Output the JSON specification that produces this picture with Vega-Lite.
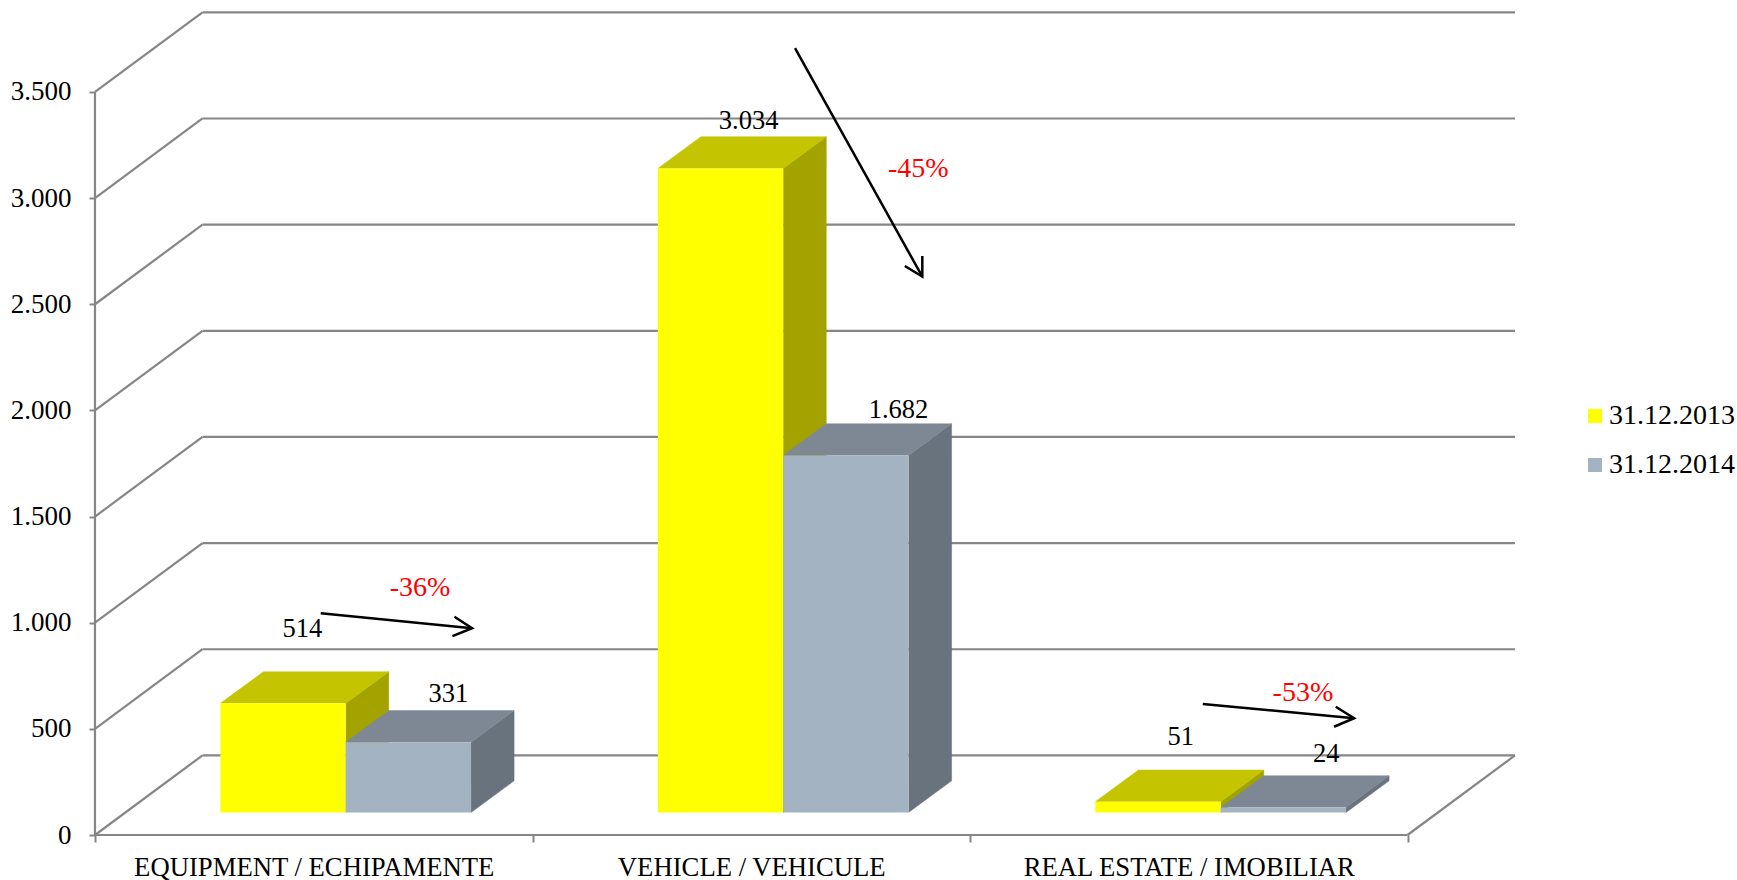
{
"$schema":"https://vega.github.io/schema/vega-lite/v6.json",
"width":1420,"height":825,"autosize":"none",
"padding":{"left":95,"top":10,"right":222,"bottom":45},
"background":"white",
"config":{"view":{"stroke":null},"font":"Liberation Serif"},
"datasets":{
"grid":[{"v":0},{"v":500},{"v":1000},{"v":1500},{"v":2000},{"v":2500},{"v":3000},{"v":3500}],
"frame":[{"xa":0,"ya":0,"xb":0,"yb":3500},{"xa":0,"ya":0,"xb":3,"yb":0},{"xa":3,"ya":0,"xb":3.2457,"yb":375}],
"arrows":[
{"id":"a1","o":0,"xa":0.516,"ya":1044},{"id":"a1","o":1,"xa":0.862,"ya":974},
{"id":"h1","o":0,"xa":0.8215,"ya":1028},{"id":"h1","o":1,"xa":0.862,"ya":974},{"id":"h1","o":2,"xa":0.817,"ya":937},
{"id":"a2","o":0,"xa":1.6,"ya":3706},{"id":"a2","o":1,"xa":1.891,"ya":2630},
{"id":"h2","o":0,"xa":1.851,"ya":2680},{"id":"h2","o":1,"xa":1.891,"ya":2630},{"id":"h2","o":2,"xa":1.891,"ya":2727},
{"id":"a3","o":0,"xa":2.532,"ya":617},{"id":"a3","o":1,"xa":2.878,"ya":550},
{"id":"h3","o":0,"xa":2.836,"ya":604},{"id":"h3","o":1,"xa":2.878,"ya":550},{"id":"h3","o":2,"xa":2.832,"ya":510}
],
"changes":[{"label":"-36%","xa":0.743,"ya":1162},{"label":"-45%","xa":1.882,"ya":3135},{"label":"-53%","xa":2.761,"ya":671}]
},
"data":{"values":[
{"category":"EQUIPMENT / ECHIPAMENTE","series":"31.12.2013","value":514},
{"category":"EQUIPMENT / ECHIPAMENTE","series":"31.12.2014","value":331},
{"category":"VEHICLE / VEHICULE","series":"31.12.2013","value":3034},
{"category":"VEHICLE / VEHICULE","series":"31.12.2014","value":1682},
{"category":"REAL ESTATE / IMOBILIAR","series":"31.12.2013","value":51},
{"category":"REAL ESTATE / IMOBILIAR","series":"31.12.2014","value":24}
]},
"transform":[
{"calculate":"indexof(['EQUIPMENT / ECHIPAMENTE','VEHICLE / VEHICULE','REAL ESTATE / IMOBILIAR'],datum.category)","as":"c"},
{"calculate":"datum.series=='31.12.2013'?0:1","as":"s"},
{"calculate":"datum.c+0.2865+datum.s*0.2865","as":"L"},
{"calculate":"datum.L+0.2865","as":"R"},
{"calculate":"106+datum.value","as":"T"},
{"calculate":"'b'+datum.c+datum.s","as":"bar"},
{"calculate":"[0,1,2,3]","as":"k"},
{"flatten":["k"]},
{"calculate":"[datum.R,datum.R+0.0984,datum.R+0.0984,datum.R][datum.k]","as":"sx"},
{"calculate":"[106,255,datum.T+149,datum.T][datum.k]","as":"sy"},
{"calculate":"[datum.L,datum.L+0.0984,datum.R+0.0984,datum.R][datum.k]","as":"tx"},
{"calculate":"[datum.T,datum.T+149,datum.T+149,datum.T][datum.k]","as":"ty"}
],
"encoding":{
"x":{"field":"xa","type":"quantitative","title":null,"scale":{"domain":[0,3.2457],"nice":false,"zero":false},
"axis":{"values":[0,0.5,1,1.5,2,2.5,3],"grid":false,"domain":false,"title":null,"tickColor":"#868686","tickWidth":2,"tickSize":7,
"tickOpacity":{"condition":{"test":"datum.value%1>0","value":0},"value":1},
"labelExpr":"datum.value==0.5?'EQUIPMENT / ECHIPAMENTE':datum.value==1.5?'VEHICLE / VEHICULE':datum.value==2.5?'REAL ESTATE / IMOBILIAR':''",
"labelFont":"Liberation Serif","labelFontSize":26.7,"labelColor":"black","labelPadding":12,"labelOverlap":false,"labelFlush":false,"labelBound":false,"labelLimit":600}},
"y":{"field":"ya","type":"quantitative","title":null,"scale":{"domain":[0,3886],"nice":false,"zero":false},
"axis":{"values":[0,500,1000,1500,2000,2500,3000,3500],"grid":false,"domain":false,"title":null,"tickColor":"#868686","tickWidth":2,"tickSize":6,
"labelExpr":"replace(format(datum.value,','),',','.')",
"labelFont":"Liberation Serif","labelFontSize":27,"labelColor":"black","labelPadding":18,"labelOverlap":false,"labelFlush":false,"labelBound":false}}
},
"layer":[
{"data":{"name":"grid"},"transform":[{"calculate":"0","as":"xa"},{"calculate":"datum.v","as":"ya"},{"calculate":"0.2457","as":"xb"},{"calculate":"datum.v+375","as":"yb"}],
"mark":{"type":"rule","color":"#868686","strokeWidth":2.2},"encoding":{"x2":{"field":"xb"},"y2":{"field":"yb"}}},
{"data":{"name":"grid"},"transform":[{"calculate":"0.2457","as":"xa"},{"calculate":"datum.v+375","as":"ya"},{"calculate":"3.2457","as":"xb"},{"calculate":"datum.v+375","as":"yb"}],
"mark":{"type":"rule","color":"#868686","strokeWidth":2.2},"encoding":{"x2":{"field":"xb"},"y2":{"field":"yb"}}},
{"data":{"name":"frame"},"mark":{"type":"rule","color":"#868686","strokeWidth":2.2},"encoding":{"x2":{"field":"xb"},"y2":{"field":"yb"}}},
{"transform":[{"filter":"datum.s==0"},{"calculate":"datum.sx","as":"xa"},{"calculate":"datum.sy","as":"ya"}],"mark":{"type":"line","fill":"#A3A300","stroke":"#A3A300","strokeWidth":0.5},"encoding":{"detail":{"field":"bar"},"order":{"field":"k"}}},
{"transform":[{"filter":"datum.s==0"},{"calculate":"datum.tx","as":"xa"},{"calculate":"datum.ty","as":"ya"}],"mark":{"type":"line","fill":"#C4C400","stroke":"#C4C400","strokeWidth":0.5},"encoding":{"detail":{"field":"bar"},"order":{"field":"k"}}},
{"transform":[{"filter":"datum.s==1"},{"calculate":"datum.sx","as":"xa"},{"calculate":"datum.sy","as":"ya"}],"mark":{"type":"line","fill":"#69737D","stroke":"#69737D","strokeWidth":0.5},"encoding":{"detail":{"field":"bar"},"order":{"field":"k"}}},
{"transform":[{"filter":"datum.s==1"},{"calculate":"datum.tx","as":"xa"},{"calculate":"datum.ty","as":"ya"}],"mark":{"type":"line","fill":"#7E8894","stroke":"#7E8894","strokeWidth":0.5},"encoding":{"detail":{"field":"bar"},"order":{"field":"k"}}},
{"transform":[{"filter":"datum.k==0"},{"calculate":"datum.L","as":"xa"},{"calculate":"datum.R","as":"xb"},{"calculate":"106","as":"ya"},{"calculate":"datum.T","as":"yb"}],
"mark":{"type":"rect"},
"encoding":{"x2":{"field":"xb"},"y2":{"field":"yb"},"color":{"field":"series","type":"nominal","title":null,
"scale":{"domain":["31.12.2013","31.12.2014"],"range":["#FFFF00","#A3B3C2"]},
"legend":{"orient":"none","legendX":1486,"legendY":392,"title":null,"symbolType":"square","symbolSize":196,"symbolStrokeWidth":0,"labelFont":"Liberation Serif","labelFontSize":28,"labelColor":"black","rowPadding":21,"labelOffset":0,"labelLimit":300}}}},
{"transform":[{"filter":"datum.k==0"},
{"calculate":"datum.c*2+datum.s","as":"i"},
{"calculate":"(datum.L+datum.R)/2+0.0492+[-0.005,0.042,0.015,0.071,0.0025,0.049][datum.i]","as":"xa"},
{"calculate":"datum.T+149+[203,78,73,63,156,104][datum.i]","as":"ya"},
{"calculate":"replace(format(datum.value,','),',','.')","as":"label"}],
"mark":{"type":"text","font":"Liberation Serif","fontSize":26.5,"color":"black","baseline":"middle"},
"encoding":{"text":{"field":"label"}}},
{"data":{"name":"arrows"},"mark":{"type":"line","color":"black","strokeWidth":2.5},"encoding":{"detail":{"field":"id"},"order":{"field":"o"}}},
{"data":{"name":"changes"},"mark":{"type":"text","font":"Liberation Serif","fontSize":28,"color":"#FF0000","baseline":"middle"},"encoding":{"text":{"field":"label"}}}
]
}
